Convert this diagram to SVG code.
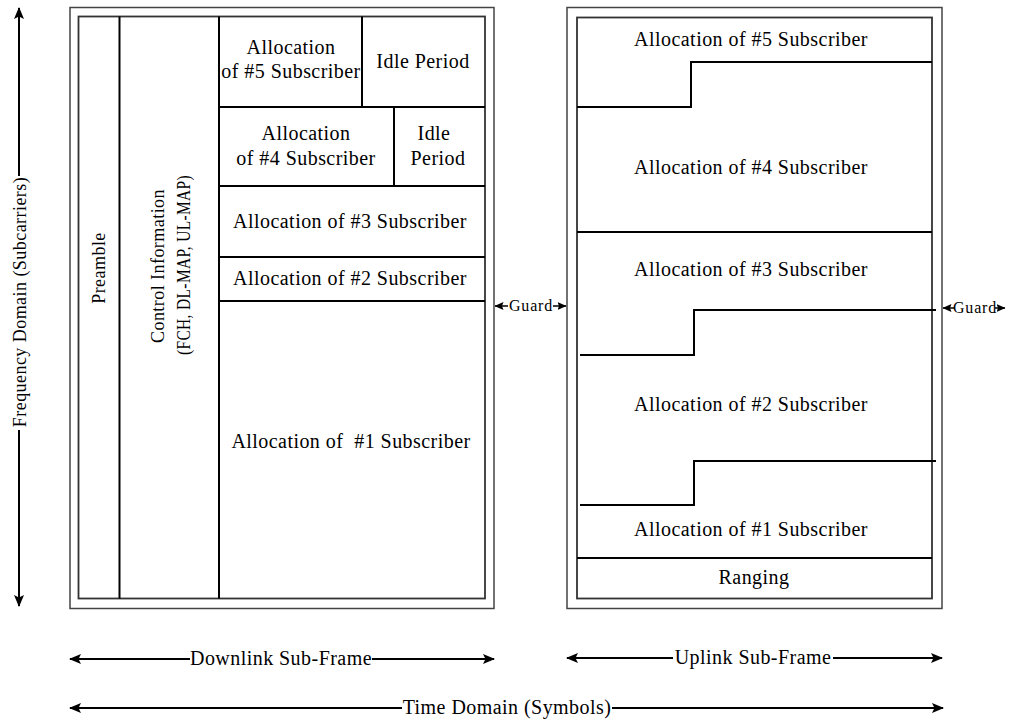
<svg xmlns="http://www.w3.org/2000/svg" width="1016" height="722" viewBox="0 0 1016 722">
<style>
text{font-family:"Liberation Serif","Times New Roman",serif;fill:#000;}
.t{font-size:20px;letter-spacing:0.45px;text-anchor:middle;white-space:pre;}
.v{font-size:18px;letter-spacing:0.45px;text-anchor:middle;}
.g{font-size:16px;letter-spacing:0.8px;text-anchor:middle;}
.frame{fill:#fff;stroke:#444;stroke-width:1.5;}
.inner{fill:none;stroke:#333;stroke-width:1.8;}
.div{fill:none;stroke:#000;stroke-width:2;}
.arr{fill:none;stroke:#000;stroke-width:2;}
.sarr{fill:none;stroke:#000;stroke-width:1.5;}
</style>
<defs>
<marker id="ah" viewBox="0 0 12 10" refX="11" refY="5" markerWidth="12" markerHeight="10" markerUnits="userSpaceOnUse" orient="auto-start-reverse">
<path d="M0,0 L12,5 L0,10 L2.5,5 z" fill="#000"/>
</marker>
<marker id="sh" viewBox="0 0 9 8" refX="8.5" refY="4" markerWidth="9" markerHeight="8" markerUnits="userSpaceOnUse" orient="auto-start-reverse">
<path d="M0,0 L9,4 L0,8 L1.5,4 z" fill="#000"/>
</marker>
</defs>
<rect width="1016" height="722" fill="#fff"/>

<g id="downlink-frame">
<rect class="frame" x="70" y="7.5" width="424" height="601"/>
<rect class="inner" x="78.5" y="16.5" width="406.5" height="582"/>
</g>
<g id="preamble">
<line class="div" x1="119.5" y1="16.5" x2="119.5" y2="598.5"/>
<text class="v" transform="translate(105,268) rotate(-90)">Preamble</text>
</g>
<g id="control-info">
<line class="div" x1="219" y1="16.5" x2="219" y2="598.5"/>
<text class="v" transform="translate(164,266) rotate(-90)">Control Information</text>
<text class="v" transform="translate(190,265) rotate(-90)" textLength="180" lengthAdjust="spacingAndGlyphs">(FCH, DL-MAP, UL-MAP)</text>
</g>
<g id="dl-sub5">
<line class="div" x1="362" y1="16.5" x2="362" y2="107"/>
<text class="t" x="291" y="54">Allocation</text>
<text class="t" x="291" y="78">of #5 Subscriber</text>
</g>
<g id="dl-idle5">
<text class="t" x="423" y="68">Idle Period</text>
</g>
<g id="dl-sub4">
<line class="div" x1="219" y1="107" x2="485" y2="107"/>
<line class="div" x1="394" y1="107" x2="394" y2="186"/>
<text class="t" x="306" y="140">Allocation</text>
<text class="t" x="306" y="165">of #4 Subscriber</text>
</g>
<g id="dl-idle4">
<text class="t" x="434" y="140">Idle</text>
<text class="t" x="438" y="165">Period</text>
</g>
<g id="dl-sub3">
<line class="div" x1="219" y1="186" x2="485" y2="186"/>
<text class="t" x="350" y="228">Allocation of #3 Subscriber</text>
</g>
<g id="dl-sub2">
<line class="div" x1="219" y1="257" x2="485" y2="257"/>
<text class="t" x="350" y="285">Allocation of #2 Subscriber</text>
</g>
<g id="dl-sub1">
<line class="div" x1="219" y1="301" x2="485" y2="301"/>
<text class="t" x="351" y="448">Allocation of  #1 Subscriber</text>
</g>

<g id="uplink-frame">
<rect class="frame" x="567" y="7.5" width="375" height="601"/>
<rect class="inner" x="577" y="17.5" width="355" height="581"/>
</g>
<g id="ul-sub5">
<text class="t" x="751" y="46">Allocation of #5 Subscriber</text>
</g>
<g id="ul-sub4">
<path class="div" d="M577,107 H691 V62 H932"/>
<text class="t" x="751" y="174">Allocation of #4 Subscriber</text>
</g>
<g id="ul-sub3">
<line class="div" x1="577" y1="232" x2="932" y2="232"/>
<text class="t" x="751" y="276">Allocation of #3 Subscriber</text>
</g>
<g id="ul-sub2">
<path class="div" d="M580,355 H694 V310 H936"/>
<text class="t" x="751" y="411">Allocation of #2 Subscriber</text>
</g>
<g id="ul-sub1">
<path class="div" d="M580,505 H694 V461 H936"/>
<text class="t" x="751" y="536">Allocation of #1 Subscriber</text>
</g>
<g id="ranging">
<line class="div" x1="577" y1="558" x2="932" y2="558"/>
<text class="t" x="754" y="584">Ranging</text>
</g>

<g id="labels">
<text class="v" transform="translate(26,302) rotate(-90)">Frequency Domain (Subcarriers)</text>
<text class="g" x="531" y="311">Guard</text>
<text class="g" x="975" y="313">Guard</text>
<text class="t" x="281" y="665">Downlink Sub-Frame</text>
<text class="t" x="753" y="664">Uplink Sub-Frame</text>
<text class="t" x="507" y="714">Time Domain (Symbols)</text>
</g>

<g id="connectors">
<line class="arr" x1="19" y1="176" x2="19" y2="8" marker-end="url(#ah)"/>
<line class="arr" x1="19" y1="430" x2="19" y2="606" marker-end="url(#ah)"/>
<line class="sarr" x1="508" y1="306" x2="495" y2="306" marker-end="url(#sh)"/>
<line class="sarr" x1="553" y1="306" x2="566" y2="306" marker-end="url(#sh)"/>
<line class="sarr" x1="955" y1="308" x2="943" y2="308" marker-end="url(#sh)"/>
<line class="sarr" x1="995" y1="308" x2="1005" y2="308" marker-end="url(#sh)"/>
<line class="arr" x1="190" y1="659" x2="70" y2="659" marker-end="url(#ah)"/>
<line class="arr" x1="372" y1="659" x2="494" y2="659" marker-end="url(#ah)"/>
<line class="arr" x1="673" y1="658" x2="567" y2="658" marker-end="url(#ah)"/>
<line class="arr" x1="833" y1="658" x2="942" y2="658" marker-end="url(#ah)"/>
<line class="arr" x1="402" y1="708" x2="70" y2="708" marker-end="url(#ah)"/>
<line class="arr" x1="612" y1="708" x2="943" y2="708" marker-end="url(#ah)"/>
</g>
</svg>
